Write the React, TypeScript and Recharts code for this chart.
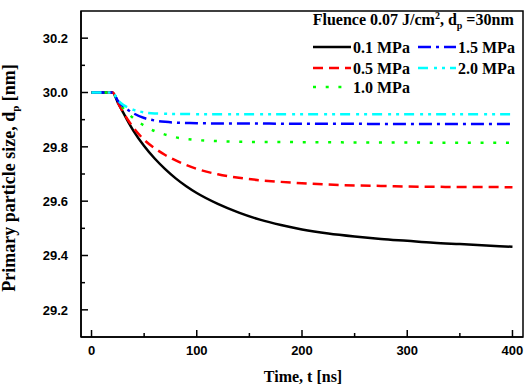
import React from 'react';
import { LineChart, Line, XAxis, YAxis, ReferenceArea, Legend } from 'recharts';

const TIME = [0, 10, 20, 25, 30, 35, 40, 50, 60, 70, 80, 90, 100, 120, 140, 160, 180, 200, 225, 250, 275, 300, 325, 350, 375, 400];
const P01 = [30, 30, 30, 29.963, 29.927, 29.891, 29.858, 29.803, 29.757, 29.718, 29.684, 29.655, 29.63, 29.59, 29.558, 29.532, 29.512, 29.496, 29.481, 29.47, 29.461, 29.454, 29.447, 29.442, 29.437, 29.432];
const P05 = [30, 30, 30, 29.963, 29.928, 29.897, 29.87, 29.826, 29.795, 29.77, 29.75, 29.733, 29.719, 29.699, 29.686, 29.677, 29.671, 29.666, 29.661, 29.658, 29.656, 29.654, 29.653, 29.652, 29.652, 29.651];
const P10 = [30, 30, 30, 29.968, 29.943, 29.922, 29.905, 29.878, 29.858, 29.845, 29.835, 29.829, 29.825, 29.821, 29.819, 29.818, 29.818, 29.817, 29.817, 29.816, 29.816, 29.816, 29.815, 29.815, 29.815, 29.815];
const P15 = [30, 30, 30, 29.97, 29.95, 29.935, 29.923, 29.906, 29.897, 29.892, 29.889, 29.888, 29.887, 29.886, 29.886, 29.886, 29.885, 29.885, 29.885, 29.885, 29.884, 29.884, 29.884, 29.884, 29.884, 29.884];
const P20 = [30, 30, 30, 29.972, 29.955, 29.944, 29.936, 29.927, 29.923, 29.922, 29.921, 29.921, 29.92, 29.92, 29.92, 29.92, 29.92, 29.92, 29.92, 29.92, 29.92, 29.92, 29.92, 29.92, 29.92, 29.92];

const X_TICKS = [0, 50, 100, 150, 200, 250, 300, 350, 400];
const Y_TICKS = [29.2, 29.3, 29.4, 29.5, 29.6, 29.7, 29.8, 29.9, 30.0, 30.1, 30.2];

const SERIES = [
  { key: 'p01', label: '0.1 MPa', color: '#000000', dash: undefined as string | undefined },
  { key: 'p05', label: '0.5 MPa', color: '#ff0000', dash: '10 6' },
  { key: 'p10', label: '1.0 MPa', color: '#00ff00', dash: '3 9.7' },
  { key: 'p15', label: '1.5 MPa', color: '#0000ff', dash: '13 5 3 5' },
  { key: 'p20', label: '2.0 MPa', color: '#00ffff', dash: '10 6 3 5 3 5' },
];

const data = TIME.map((t, i) => ({ t, p01: P01[i], p05: P05[i], p10: P10[i], p15: P15[i], p20: P20[i] }));

const SANS = "'Liberation Sans', Arial, sans-serif";
const SERIF = "'Liberation Serif', 'Times New Roman', serif";

const YTick = (props: any) => {
  const { x, y, payload } = props;
  const v = payload.value as number;
  const major = Math.round(v * 10) % 2 === 0;
  return (
    <g>
      <line x1={x} y1={y} x2={x + (major ? 7 : 4)} y2={y} stroke="#000" strokeWidth={1.5} />
      {major && (
        <text x={x - 13} y={y} dy="0.36em" textAnchor="end" fontFamily={SANS} fontWeight="bold" fontSize={13} fill="#000">
          {v.toFixed(1)}
        </text>
      )}
    </g>
  );
};

const XTick = (props: any) => {
  const { x, y, payload } = props;
  const v = payload.value as number;
  const major = v % 100 === 0;
  return (
    <g>
      <line x1={x} y1={y} x2={x} y2={y - (major ? 7 : 4)} stroke="#000" strokeWidth={1.5} />
      {major && (
        <text x={x} y={y + 18} textAnchor="middle" fontFamily={SANS} fontWeight="bold" fontSize={13} fill="#000">
          {v}
        </text>
      )}
    </g>
  );
};

const YTitle = () => (
  <text x={15} y={178} transform="rotate(-90 15 178)" textAnchor="middle" fontFamily={SERIF} fontWeight="bold" fontSize={18} fill="#000">
    Primary particle size, d<tspan dy={4} fontSize={11}>p</tspan>
    <tspan dy={-4}> [nm]</tspan>
  </text>
);

const XTitle = () => (
  <text x={303} y={381.5} textAnchor="middle" fontFamily={SERIF} fontWeight="bold" fontSize={16} fill="#000">
    Time, t [ns]
  </text>
);

const LEGEND_POS = [
  { key: 'p01', x: 313, y: 53 },
  { key: 'p05', x: 313, y: 74 },
  { key: 'p10', x: 313, y: 93 },
  { key: 'p15', x: 418, y: 53 },
  { key: 'p20', x: 418, y: 74 },
];

const LegendContent = () => (
  <svg width={526} height={110} style={{ display: 'block', overflow: 'visible' }}>
    <text x={312.7} y={25.3} fontFamily={SERIF} fontWeight="bold" fontSize={16} fill="#000">
      Fluence 0.07 J/cm<tspan dy={-6} fontSize={10}>2</tspan>
      <tspan dy={6}>, d</tspan>
      <tspan dy={4} fontSize={10}>p</tspan>
      <tspan dy={-4}> =30nm</tspan>
    </text>
    {LEGEND_POS.map((p) => {
      const s = SERIES.find((q) => q.key === p.key)!;
      return (
        <g key={p.key}>
          <line x1={p.x} y1={p.y - 6} x2={p.x + 38} y2={p.y - 6} stroke={s.color} strokeWidth={2.5} strokeDasharray={s.dash} />
          <text x={p.x + 40} y={p.y} fontFamily={SERIF} fontWeight="bold" fontSize={16} fill="#000">
            {s.label}
          </text>
        </g>
      );
    })}
  </svg>
);

export default function App() {
  return (
    <div style={{ position: 'absolute', left: 0, top: 0, width: 526, height: 388, background: '#fff' }}>
      <LineChart width={526} height={388} data={data} margin={{ top: 11, right: 3, left: 0, bottom: 0 }}>
        <XAxis
          dataKey="t"
          type="number"
          domain={[-10, 410]}
          ticks={X_TICKS}
          interval={0}
          height={51}
          tickSize={0}
          tickMargin={0}
          tickLine={false}
          tick={<XTick />}
          axisLine={{ stroke: '#000', strokeWidth: 1.5 }}
          allowDataOverflow
          label={<XTitle />}
        />
        <YAxis
          type="number"
          domain={[29.1, 30.3]}
          ticks={Y_TICKS}
          interval={0}
          width={81}
          tickSize={0}
          tickMargin={0}
          tickLine={false}
          tick={<YTick />}
          axisLine={{ stroke: '#000', strokeWidth: 1.5 }}
          allowDataOverflow
          label={<YTitle />}
        />
        <ReferenceArea x1={-10} x2={410} y1={29.1} y2={30.3} fill="none" stroke="#000" strokeWidth={1.5} fillOpacity={0} />
        {SERIES.map((s) => (
          <Line
            key={s.key}
            dataKey={s.key}
            type="monotone"
            stroke={s.color}
            strokeWidth={2.5}
            strokeDasharray={s.dash}
            dot={false}
            activeDot={false}
            isAnimationActive={false}
          />
        ))}
        <Legend
          layout="horizontal"
          verticalAlign="middle"
          align="center"
          content={<LegendContent />}
          wrapperStyle={{ position: 'absolute', left: 0, top: 0, width: 526, height: 110, pointerEvents: 'none' }}
        />
      </LineChart>
    </div>
  );
}
